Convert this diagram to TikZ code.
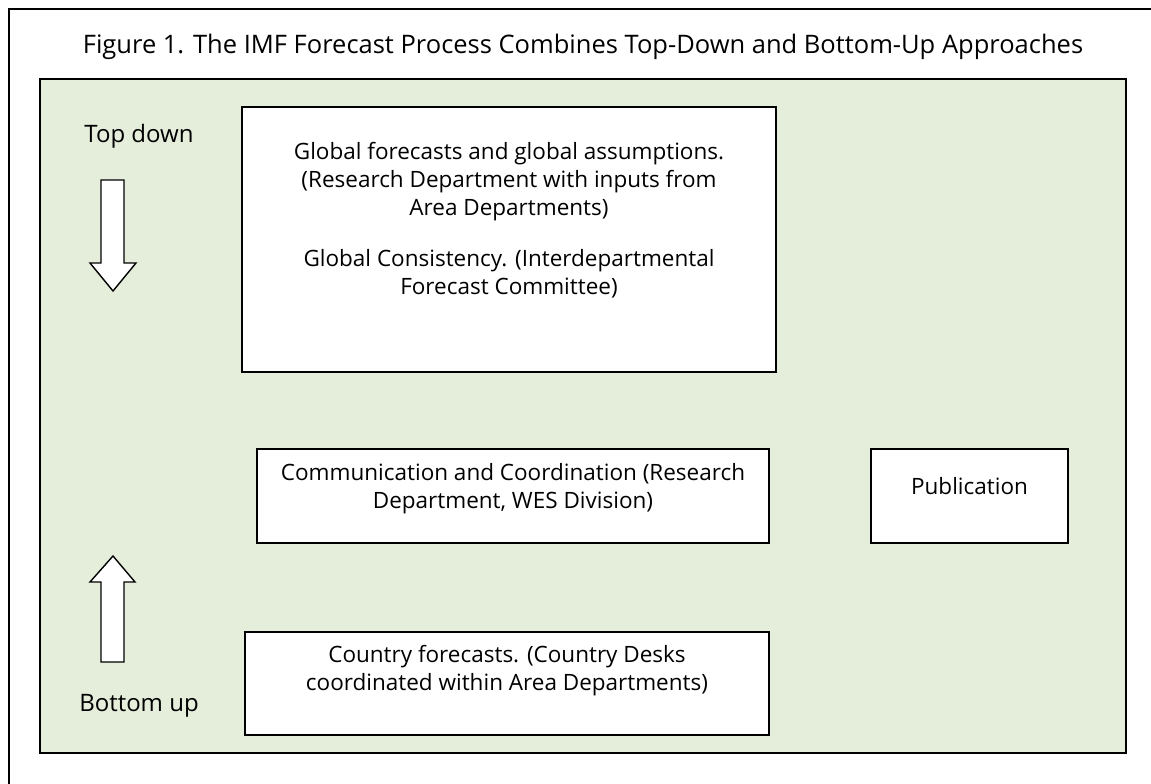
\documentclass[tikz,border=0pt]{standalone}
\usepackage{fontspec}
\setmainfont{Open Sans}
\definecolor{panelgreen}{RGB}{229,238,219}

\begin{document}
\begin{tikzpicture}[x=1pt, y=-1pt]
            \tikzstyle{frame} = [line width=2pt, black]
            \tikzstyle{panel} = [draw=black, line width=2.6pt, fill=panelgreen]
            \tikzstyle{box} = [draw=black, line width=1.8pt, fill=white, inner sep=0pt, rectangle]
            \tikzstyle{side} = [anchor=base, font=\fontsize{24}{28}\selectfont]
            \tikzstyle{bigarrow} = [draw=black, line width=1.4pt, fill=white, line join=miter]

            \useasboundingbox (0,0) rectangle (1151,784);

            \draw [frame] (9,784) -- (9,9) -- (1151,9);
            \node [anchor=base, font=\fontsize{25.5}{28}\selectfont] (title) at (583,54)
                {Figure 1. The IMF Forecast Process Combines Top-Down and Bottom-Up Approaches};

            \draw [panel] (40,79) rectangle (1126,753);

            \node [side] (topdown) at (139,142) {Top down};
            \node [side] (bottomup) at (139,711) {Bottom up};

            \draw [bigarrow] (101,180) -- (124,180) -- (124,263) -- (136,263)
                -- (113,291) -- (90,263) -- (101,263) -- cycle;
            \draw [bigarrow] (101,662) -- (124,662) -- (124,582) -- (135,582)
                -- (113,556) -- (90,582) -- (101,582) -- cycle;

            \node [box] (global) at (509,239.5) {%
                \parbox[c][265pt][t]{534pt}{\centering\fontsize{22.5}{28}\selectfont
                    \vspace*{33pt}\strut Global forecasts and global assumptions.\\
                    (Research Department with inputs from\\
                    Area Departments)\\[23pt]
                    Global Consistency. (Interdepartmental\\
                    Forecast Committee)}};

            \node [box] (coord) at (513,496) {%
                \parbox[c][94pt][t]{512pt}{\centering\fontsize{22.5}{28}\selectfont
                    \vspace*{12pt}\strut Communication and Coordination (Research\\
                    Department, WES Division)}};

            \node [box] (pub) at (969.5,496) {%
                \parbox[c][94pt][t]{197pt}{\centering\fontsize{22.5}{28}\selectfont
                    \vspace*{26pt}\strut Publication}};

            \node [box] (country) at (507,683.5) {%
                \parbox[c][103pt][t]{524pt}{\centering\fontsize{22.5}{28}\selectfont
                    \vspace*{11pt}\strut Country forecasts. (Country Desks\\
                    coordinated within Area Departments)}};
\end{tikzpicture}
\end{document}
